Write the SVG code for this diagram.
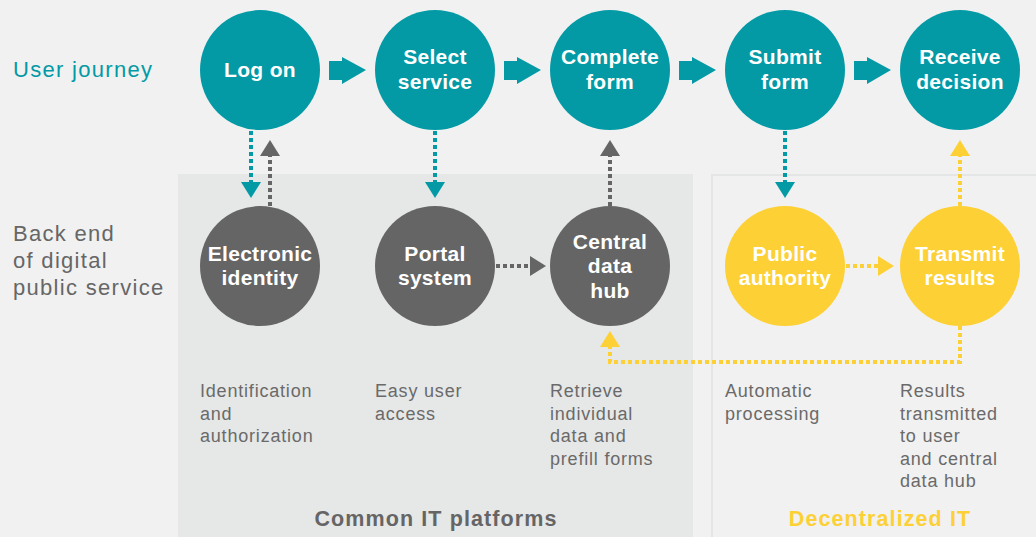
<svg xmlns="http://www.w3.org/2000/svg" width="1036" height="537" viewBox="0 0 1036 537">
<defs>
<style>
.teal{fill:#039aa6}
.grayc{fill:#656565}
.yel{fill:#fdd036}
.lbl{font-family:"Liberation Sans",Arial,sans-serif;font-weight:bold;font-size:21px;fill:#ffffff;text-anchor:middle;letter-spacing:0.3px}
.desc{font-family:"Liberation Sans",Arial,sans-serif;font-size:18px;fill:#6a6a6a;letter-spacing:0.8px}
.side{font-family:"Liberation Sans",Arial,sans-serif;font-size:22px;letter-spacing:1.3px}
.panel{font-family:"Liberation Sans",Arial,sans-serif;font-weight:bold;font-size:21.5px;text-anchor:middle;letter-spacing:1.1px}
.dt{fill:none;stroke:#039aa6;stroke-width:4;stroke-dasharray:4 3}
.dg{fill:none;stroke:#656565;stroke-width:4;stroke-dasharray:4 3}
.dy{fill:none;stroke:#fdd036;stroke-width:4;stroke-dasharray:4 3}
</style>
</defs>
<rect x="0" y="0" width="1036" height="537" fill="#f1f1f1"/>
<rect x="178" y="174" width="515" height="370" fill="#e6e7e7"/>
<rect x="712" y="175" width="340" height="370" fill="#f1f1f1" stroke="#e4e5e5" stroke-width="2"/>

<text class="side" x="13" y="77" fill="#039aa6">User journey</text>
<text class="side" x="13" y="241" fill="#666666">Back end</text>
<text class="side" x="13" y="268" fill="#666666">of digital</text>
<text class="side" x="13" y="295" fill="#666666">public service</text>

<g id="connectors">
<g class="teal">
<path d="M329 61h13v-4l24 13-24 14v-4h-13z"/>
<path d="M504 61h13v-4l24 13-24 14v-4h-13z"/>
<path d="M679 61h13v-4l24 13-24 14v-4h-13z"/>
<path d="M854 61h13v-4l24 13-24 14v-4h-13z"/>
</g>
<line class="dt" x1="251" y1="131" x2="251" y2="182"/>
<polygon class="teal" points="241,182 261,182 251,198"/>
<line class="dg" x1="270" y1="206" x2="270" y2="156"/>
<polygon class="grayc" points="260,156 280,156 270,140"/>
<line class="dt" x1="435" y1="131" x2="435" y2="182"/>
<polygon class="teal" points="425,182 445,182 435,198"/>
<line class="dg" x1="610" y1="206" x2="610" y2="156"/>
<polygon class="grayc" points="600,156 620,156 610,140"/>
<line class="dt" x1="785" y1="131" x2="785" y2="182"/>
<polygon class="teal" points="775,182 795,182 785,198"/>
<line class="dy" x1="960" y1="206" x2="960" y2="156"/>
<polygon class="yel" points="950,156 970,156 960,140"/>
<line class="dg" x1="496" y1="266" x2="530" y2="266"/>
<polygon class="grayc" points="530,256 530,276 546,266"/>
<line class="dy" x1="846" y1="266" x2="878" y2="266"/>
<polygon class="yel" points="878,256 878,276 894,266"/>
<polyline class="dy" points="960,326 960,362 610,362 610,347"/>
<polygon class="yel" points="600,347 620,347 610,331"/>
</g>

<g id="log-on"><circle class="teal" cx="260" cy="70" r="60"/><text class="lbl" x="260" y="77">Log on</text></g>
<g id="select-service"><circle class="teal" cx="435" cy="70" r="60"/><text class="lbl" x="435" y="64">Select</text><text class="lbl" x="435" y="89">service</text></g>
<g id="complete-form"><circle class="teal" cx="610" cy="70" r="60"/><text class="lbl" x="610" y="64">Complete</text><text class="lbl" x="610" y="89">form</text></g>
<g id="submit-form"><circle class="teal" cx="785" cy="70" r="60"/><text class="lbl" x="785" y="64">Submit</text><text class="lbl" x="785" y="89">form</text></g>
<g id="receive-decision"><circle class="teal" cx="960" cy="70" r="60"/><text class="lbl" x="960" y="64">Receive</text><text class="lbl" x="960" y="89">decision</text></g>

<g id="electronic-identity"><circle class="grayc" cx="260" cy="266" r="60"/><text class="lbl" x="260" y="261">Electronic</text><text class="lbl" x="260" y="285">identity</text></g>
<g id="portal-system"><circle class="grayc" cx="435" cy="266" r="60"/><text class="lbl" x="435" y="261">Portal</text><text class="lbl" x="435" y="285">system</text></g>
<g id="central-data-hub"><circle class="grayc" cx="610" cy="266" r="60"/><text class="lbl" x="610" y="249">Central</text><text class="lbl" x="610" y="273">data</text><text class="lbl" x="610" y="298">hub</text></g>
<g id="public-authority"><circle class="yel" cx="785" cy="266" r="60"/><text class="lbl" x="785" y="261">Public</text><text class="lbl" x="785" y="285">authority</text></g>
<g id="transmit-results"><circle class="yel" cx="960" cy="266" r="60"/><text class="lbl" x="960" y="261">Transmit</text><text class="lbl" x="960" y="285">results</text></g>

<g id="descriptions">
<text class="desc" x="200" y="397">Identification</text>
<text class="desc" x="200" y="420">and</text>
<text class="desc" x="200" y="442">authorization</text>
<text class="desc" x="375" y="397">Easy user</text>
<text class="desc" x="375" y="420">access</text>
<text class="desc" x="550" y="397">Retrieve</text>
<text class="desc" x="550" y="420">individual</text>
<text class="desc" x="550" y="442">data and</text>
<text class="desc" x="550" y="465">prefill forms</text>
<text class="desc" x="725" y="397">Automatic</text>
<text class="desc" x="725" y="420">processing</text>
<text class="desc" x="900" y="397">Results</text>
<text class="desc" x="900" y="420">transmitted</text>
<text class="desc" x="900" y="442">to user</text>
<text class="desc" x="900" y="465">and central</text>
<text class="desc" x="900" y="487">data hub</text>
</g>
<text class="panel" x="436" y="526" fill="#656565">Common IT platforms</text>
<text class="panel" x="880" y="526" fill="#fdd036">Decentralized IT</text>
</svg>
